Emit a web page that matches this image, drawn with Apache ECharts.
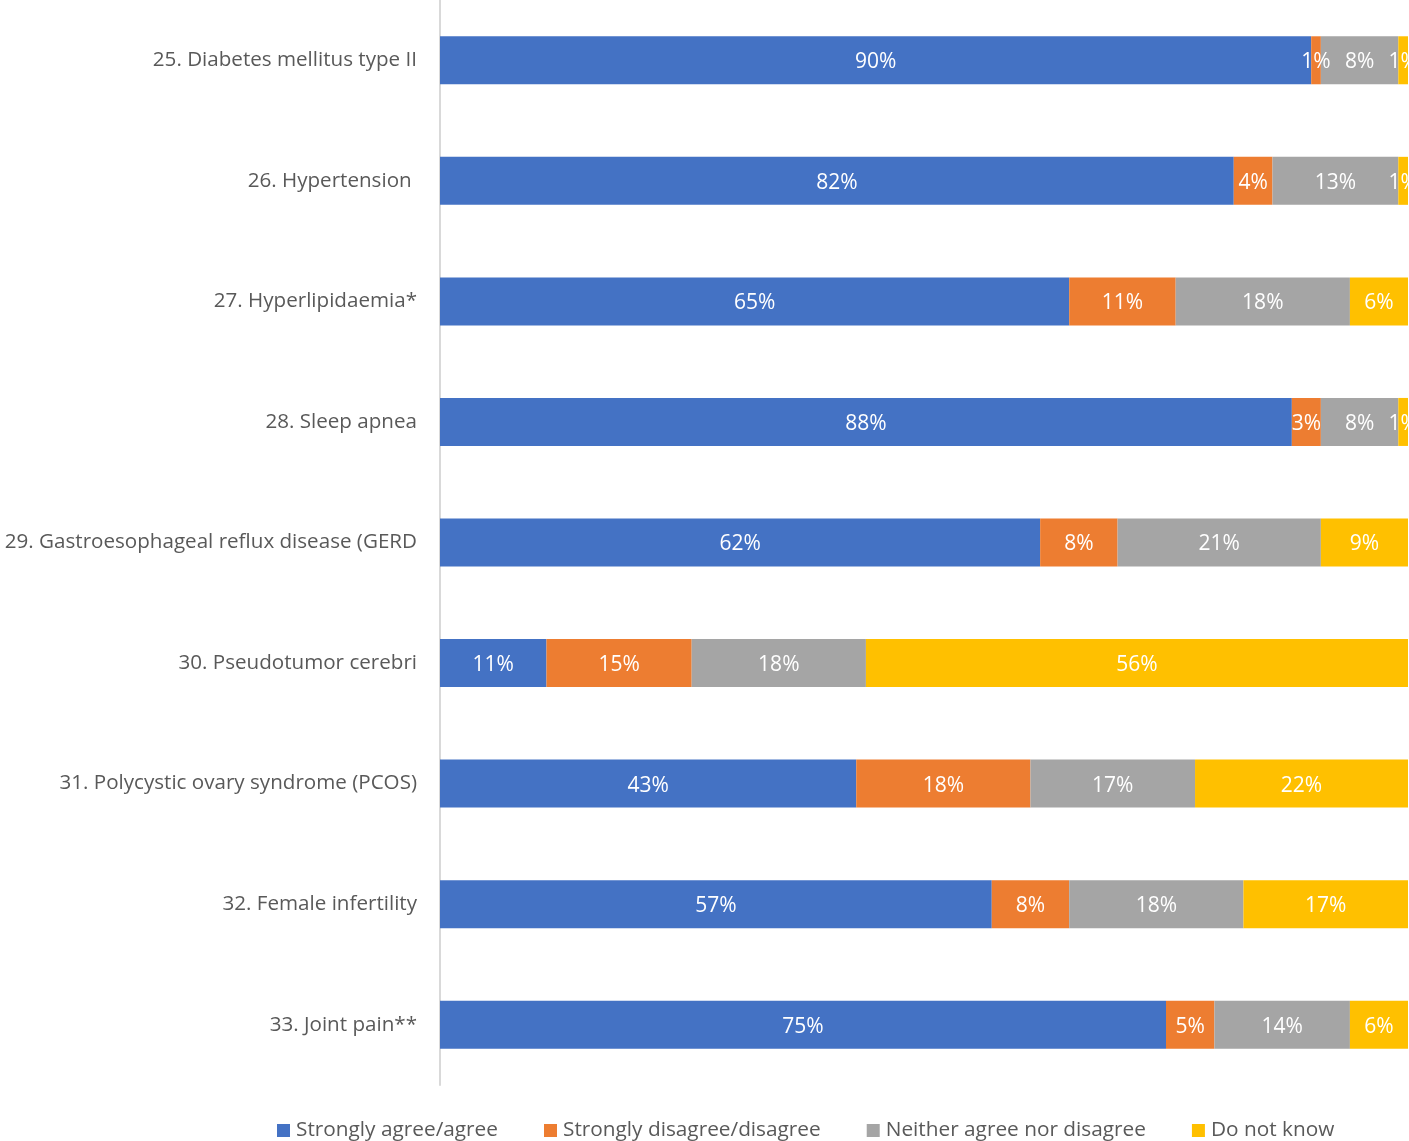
<!DOCTYPE html>
<html><head><meta charset="utf-8">
<script src="https://cdn.jsdelivr.net/npm/echarts@6/dist/echarts.min.js"></script>
<style>html,body{margin:0;padding:0;background:#fff}#c{width:1409px;height:1141px}</style>
</head><body><div id="c"></div>
<script>
var categories = ["25. Diabetes mellitus type II","26. Hypertension ","27. Hyperlipidaemia*","28. Sleep apnea","29. Gastroesophageal reflux disease (GERD","30. Pseudotumor cerebri","31. Polycystic ovary syndrome (PCOS)","32. Female infertility","33. Joint pain**"];
var agree = [90,82,65,88,62,11,43,57,75];
var disagree = [1,4,11,3,8,15,18,8,5];
var neither = [8,13,18,8,21,18,17,18,14];
var dontKnow = [1,1,6,1,9,56,22,17,6];
var seriesNames = ["Strongly agree/agree","Strongly disagree/disagree","Neither agree nor disagree","Do not know"];
var colors = ["#4472C4","#ED7D31","#A5A5A5","#FFC000"];
var FONT = "'Open Sans', sans-serif";
var chart = echarts.init(document.getElementById('c'));
function mk(name, data, color){
  return {name:name,type:'bar',stack:'s',data:data,barWidth:48,
    itemStyle:{color:color},
    label:{show:true,position:'inside',color:'#fff',fontSize:21,fontWeight:500,fontFamily:FONT,formatter:'{c}%',offset:[0,2]}};
}
chart.setOption({
  animation:false,
  color:colors,
  grid:{left:440,right:1,top:0,height:1085,containLabel:false,outerBoundsMode:'none'},
  legend:{top:1120,left:277,padding:0,itemWidth:13,itemHeight:13,itemGap:46,icon:'rect',
    textStyle:{fontSize:20.8,color:'#595959',fontFamily:FONT,padding:[0,0,0,1]},
    data:seriesNames},
  xAxis:{type:'value',min:0,max:100,show:false},
  yAxis:{type:'category',inverse:true,data:categories,
    axisLine:{show:true,lineStyle:{color:'#d9d9d9',width:2}},
    axisTick:{show:false},
    axisLabel:{margin:23,fontSize:20.6,color:'#595959',fontFamily:FONT}},
  series:[mk(seriesNames[0],agree,colors[0]),mk(seriesNames[1],disagree,colors[1]),mk(seriesNames[2],neither,colors[2]),mk(seriesNames[3],dontKnow,colors[3])]
});
</script></body></html>
